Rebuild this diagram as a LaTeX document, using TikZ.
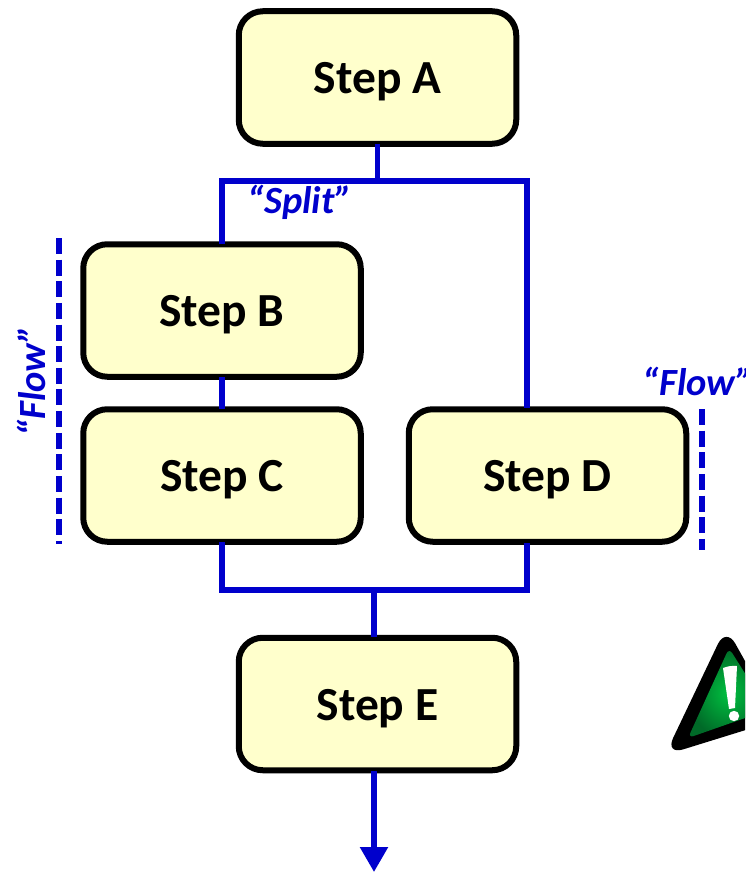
\documentclass[tikz,border=0pt]{standalone}
\usepackage{fontspec}
\setmainfont{Carlito}
\usetikzlibrary{arrows.meta,shadings}
\definecolor{flowblue}{HTML}{0000CC}
\definecolor{stepfill}{HTML}{FFFFCC}
\definecolor{iconlight}{HTML}{00C040}
\definecolor{icondark}{HTML}{006A28}
\tikzset{
  stepbox/.style={draw=black,line width=6pt,fill=stepfill,rounded corners=24pt,
    minimum width=277.5pt,minimum height=132.5pt,inner sep=0pt,outer sep=0pt,
    text height=41pt,text depth=9pt,
    font=\fontsize{47.5}{50}\selectfont\bfseries},
  link/.style={draw=flowblue,line width=5.5pt},
  guide/.style={draw=flowblue,line width=5.5pt,dash pattern=on 16pt off 5.64pt},
  tag/.style={text=flowblue,inner sep=0pt,font=\fontsize{38.5}{42}\selectfont\bfseries\itshape}
}
\begin{document}
\begin{tikzpicture}[x=1pt,y=-1pt]
\useasboundingbox (0,0) rectangle (745,872);
\clip (0,0) rectangle (745,872);
\node[stepbox] (A) at (377.5,77.5) {Step A};
\node[stepbox] (B) at (222,310.5) {Step B};
\node[stepbox] (C) at (222,475.5) {Step C};
\node[stepbox] (D) at (547.5,475.5) {Step D};
\node[stepbox] (E) at (377.5,704) {Step E};
\coordinate (splitL) at (222,181);
\coordinate (splitR) at (527,181);
\coordinate (Dtop) at (527,408);
\coordinate (Dbot) at (527,543);
\coordinate (joinL) at (222,590);
\coordinate (joinR) at (527,590);
\coordinate (joinM) at (374,590);
\coordinate (Etop) at (374,637);
\coordinate (Ebot) at (374,771);
\coordinate (tip) at (374,872);
\draw[link] (A.south) -- (A.south |- splitL);
\draw[link] (B.north) -- (splitL) -- (splitR) -- (Dtop);
\draw[link] (B.south) -- (C.north);
\draw[link] (C.south) -- (joinL) -- (joinR) -- (Dbot);
\draw[link] (joinM) -- (Etop);
\draw[link,-{Triangle[length=25pt,width=27pt]}] (Ebot) -- (tip);
\coordinate (g1a) at (59,238);
\coordinate (g1b) at (59,544);
\coordinate (g2a) at (702,409);
\coordinate (g2b) at (702,550);
\draw[guide] (g1a) -- (g1b);
\draw[guide] (g2a) -- (g2b);
\node[tag] (split) at (300,202) {“Split”};
\node[tag,rotate=90] (flowL) at (31,381) {“Flow”};
\node[tag] (flowR) at (698,381) {“Flow”};
% warning icon
\fill[black,rounded corners=19pt] (726,627) -- (665,755) -- (778,720) -- cycle;
\shade[inner color=iconlight,outer color=icondark,rounded corners=6pt]
  (729,648) -- (688,738) -- (768,710) -- cycle;
\fill[white] (723,668) to[bend left=12] (737,666) -- (735,708) -- (729,709) -- cycle;
\fill[white] (734,716) circle (5.2pt);
\end{tikzpicture}
\end{document}
